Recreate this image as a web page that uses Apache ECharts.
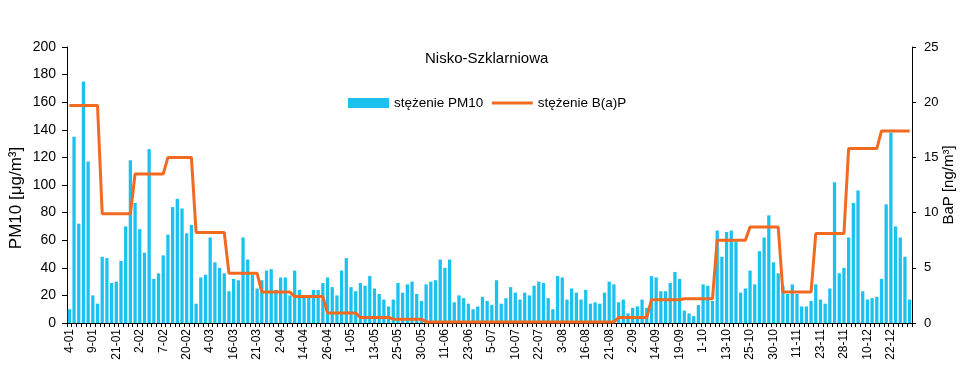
<!DOCTYPE html>
<html>
<head>
<meta charset="utf-8">
<script src="https://cdn.jsdelivr.net/npm/echarts@6/dist/echarts.min.js"></script>
<style>html,body{margin:0;padding:0;background:#fff}#c{width:975px;height:380px}</style>
</head>
<body>
<div id="c"></div>
<script>
const tickLabels = ['4-01','9-01','21-01','2-02','7-02','20-02','4-03','16-03','21-03','2-04','14-04','26-04','1-05','13-05','25-05','30-05','11-06','23-06','5-07','10-07','22-07','3-08','16-08','21-08','2-09','14-09','19-09','1-10','13-10','25-10','30-10','11-11','23-11','28-11','10-12','22-12'];

const pm10 = [
10,135,72,175,117,20,14,48,47,29,
30,45,70,118,87,68,51,126,32,36,
49,64,84,90,83,65,71,14,33,35,
62,44,40,36,23,32,31,62,46,35,
25,31,38,39,24,33,33,20,38,24,
20,20,24,24,29,33,26,20,38,47,
26,23,29,27,34,25,21,17,12,17,
29,22,28,30,21,16,28,30,31,46,
40,46,15,20,18,14,10,12,19,16,
13,31,14,18,26,22,17,22,20,27,
30,29,18,10,34,33,17,25,22,17,
24,14,15,14,22,30,28,15,17,7,
11,12,17,11,34,33,23,23,29,37,
32,9,7,5,13,28,27,16,67,48,
66,67,59,22,25,38,28,52,62,78,
44,36,27,21,28,21,12,12,16,28,
17,14,25,102,36,40,62,87,96,23,
17,18,19,32,86,138,70,62,48,17
];

const bap = [
19.7,19.7,19.7,19.7,19.7,19.7,19.7,
9.9,9.9,9.9,9.9,9.9,9.9,9.9,
13.5,13.5,13.5,13.5,13.5,13.5,13.5,
15.0,15.0,15.0,15.0,15.0,15.0,
8.2,8.2,8.2,8.2,8.2,8.2,8.2,
4.5,4.5,4.5,4.5,4.5,4.5,4.5,
2.8,2.8,2.8,2.8,2.8,2.8,2.8,
2.4,2.4,2.4,2.4,2.4,2.4,2.4,
0.9,0.9,0.9,0.9,0.9,0.9,0.9,
0.5,0.5,0.5,0.5,0.5,0.5,0.5,
0.35,0.35,0.35,0.35,0.35,0.35,0.35,
0.1,0.1,0.1,0.1,0.1,0.1,0.1,
0.1,0.1,0.1,0.1,0.1,0.1,0.1,
0.1,0.1,0.1,0.1,0.1,0.1,0.1,
0.1,0.1,0.1,0.1,0.1,0.1,0.1,
0.1,0.1,0.1,0.1,0.1,0.1,0.1,
0.1,0.1,0.1,0.1,0.1,0.1,
0.5,0.5,0.5,0.5,0.5,0.5,0.5,
2.1,2.1,2.1,2.1,2.1,2.1,2.1,
2.2,2.2,2.2,2.2,2.2,2.2,2.2,
7.5,7.5,7.5,7.5,7.5,7.5,7.5,
8.7,8.7,8.7,8.7,8.7,8.7,8.7,
2.8,2.8,2.8,2.8,2.8,2.8,2.8,
8.1,8.1,8.1,8.1,8.1,8.1,8.1,
15.8,15.8,15.8,15.8,15.8,15.8,15.8,
17.4,17.4,17.4,17.4,17.4,17.4,17.4
];

const categories = pm10.map((v, i) => i % 5 === 0 ? tickLabels[i / 5] : tickLabels[Math.floor(i / 5)] + '+' + (i % 5));

const font = 'Liberation Sans, Arial, sans-serif';
const chart = echarts.init(document.getElementById('c'), null, {renderer: 'canvas'});
chart.setOption({
  animation: false,
  backgroundColor: '#fff',
  textStyle: {fontFamily: font},
  title: {
    text: 'Nisko-Szklarniowa',
    left: 420,
    top: 46,
    textStyle: {fontFamily: font, fontSize: 15, fontWeight: 'normal', color: '#000'}
  },
  legend: {
    left: 343,
    top: 91,
    itemWidth: 41,
    itemHeight: 10,
    itemGap: 7,
    textStyle: {fontFamily: font, fontSize: 13.5, color: '#000'},
    data: [
      {name: 'stężenie PM10', icon: 'rect'},
      {name: 'stężenie B(a)P', itemStyle: {opacity: 0}, lineStyle: {width: 3, color: '#f26a21'}}
    ]
  },
  grid: {left: 67, right: 63, top: 47, bottom: 57, containLabel: false, outerBoundsMode: 'none'},
  xAxis: {
    type: 'category',
    data: categories,
    boundaryGap: true,
    axisLine: {lineStyle: {color: '#000', width: 1}},
    axisTick: {show: true, interval: 0, length: 4, lineStyle: {color: '#000'}},
    axisLabel: {interval: 4, rotate: 90, fontSize: 12, color: '#000', fontFamily: font, margin: 6},
    splitLine: {show: false}
  },
  yAxis: [
    {
      type: 'value', min: 0, max: 200, interval: 20,
      name: 'PM10 [μg/m³]', nameLocation: 'middle', nameGap: 42, nameRotate: 90, nameMoveOverlap: false,
      nameTextStyle: {fontFamily: font, fontSize: 17, color: '#000', padding: [0, 26, 0, 0]},
      axisLine: {show: true, lineStyle: {color: '#000'}},
      axisTick: {show: true, length: 5, lineStyle: {color: '#000'}},
      axisLabel: {fontSize: 14, color: '#000', fontFamily: font, margin: 11},
      splitLine: {show: false}
    },
    {
      type: 'value', min: 0, max: 25, interval: 5, position: 'right',
      name: 'BaP [ng/m³]', nameLocation: 'middle', nameGap: 29, nameRotate: 90, nameMoveOverlap: false,
      nameTextStyle: {fontFamily: font, fontSize: 15, color: '#000'},
      axisLine: {show: true, lineStyle: {color: '#000'}},
      axisTick: {show: true, length: 4, lineStyle: {color: '#000'}},
      axisLabel: {fontSize: 13, color: '#000', fontFamily: font, margin: 12},
      splitLine: {show: false}
    }
  ],
  series: [
    {
      name: 'stężenie PM10', type: 'bar', data: pm10, yAxisIndex: 0,
      barWidth: '70%',
      itemStyle: {color: '#1bc2ef'}
    },
    {
      name: 'stężenie B(a)P', type: 'line', data: bap, yAxisIndex: 1,
      symbol: 'none', showSymbol: false,
      lineStyle: {color: '#f26a21', width: 3},
      itemStyle: {color: '#f26a21'},
      z: 5
    }
  ]
});
</script>
</body>
</html>
